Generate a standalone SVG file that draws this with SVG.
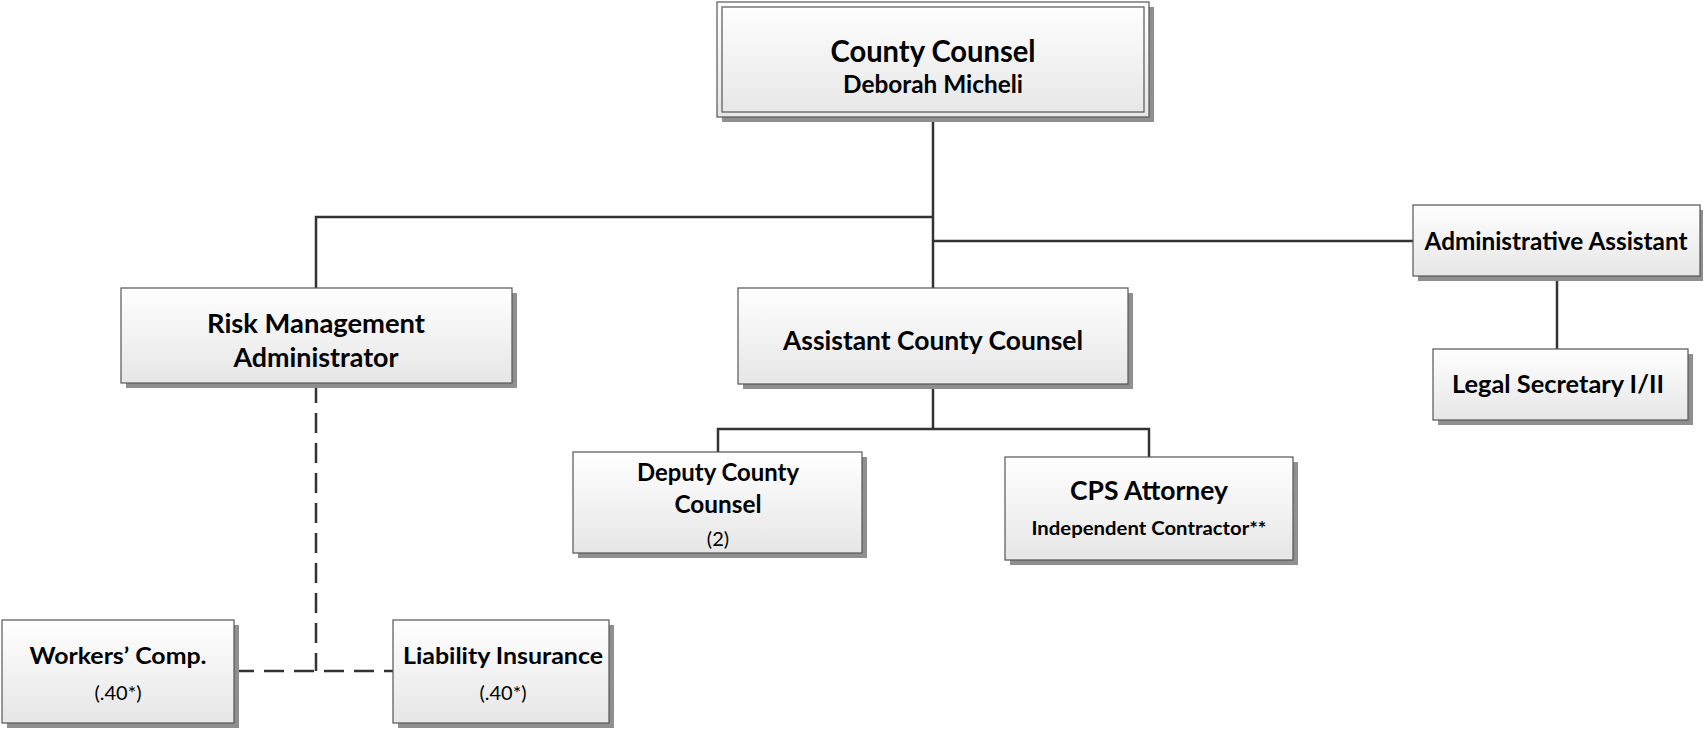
<svg xmlns="http://www.w3.org/2000/svg" width="1703" height="729" viewBox="0 0 1703 729">
<defs>
<linearGradient id="g" x1="0" y1="0" x2="0" y2="1">
<stop offset="0" stop-color="#ffffff"/>
<stop offset="1" stop-color="#e6e6e6"/>
</linearGradient>
</defs>
<style>
.box{fill:url(#g);stroke:#555;stroke-width:1.2}
.sh{fill:#8f8f8f}
.t{font-family:Lato,"Liberation Sans",sans-serif;font-weight:bold;fill:#000;text-anchor:middle}
.r{font-family:Lato,"Liberation Sans",sans-serif;font-weight:normal;fill:#000;text-anchor:middle}
.c{fill:none;stroke:#333;stroke-width:2.5}
.d{fill:none;stroke:#333;stroke-width:2.5;stroke-dasharray:20 10}
</style>
<rect width="1703" height="729" fill="#fff"/>
<g id="connectors">
<path class="c" d="M933 117 V288"/>
<path class="c" d="M316 288 V217 H933"/>
<path class="c" d="M933 241 H1413"/>
<path class="c" d="M933 384 V429 M718 452 V429 H1149 V457"/>
<path class="c" d="M1557 276 V349"/>
<path class="d" d="M316 383 V671"/>
<path class="d" d="M234 671 H393"/>
</g>
<g id="county-counsel">
<rect class="sh" x="722" y="7" width="432" height="115"/>
<rect class="box" x="717" y="2" width="432" height="115"/>
<rect class="box" x="722" y="7" width="422" height="105" style="fill:none"/>
<text class="t" x="933" y="62" font-size="30" textLength="205" lengthAdjust="spacingAndGlyphs">County Counsel</text>
<text class="t" x="933" y="93" font-size="24" textLength="180" lengthAdjust="spacingAndGlyphs">Deborah Micheli</text>
</g>
<g id="risk-management">
<rect class="sh" x="126" y="293" width="391" height="95"/>
<rect class="box" x="121" y="288" width="391" height="95"/>
<text class="t" x="316" y="333" font-size="27" textLength="218" lengthAdjust="spacingAndGlyphs">Risk Management</text>
<text class="t" x="316" y="367" font-size="27" textLength="165" lengthAdjust="spacingAndGlyphs">Administrator</text>
</g>
<g id="assistant-county-counsel">
<rect class="sh" x="743" y="293" width="390" height="96"/>
<rect class="box" x="738" y="288" width="390" height="96"/>
<text class="t" x="933" y="350" font-size="27" textLength="300" lengthAdjust="spacingAndGlyphs">Assistant County Counsel</text>
</g>
<g id="administrative-assistant">
<rect class="sh" x="1418" y="210" width="287" height="71"/>
<rect class="box" x="1413" y="205" width="287" height="71"/>
<text class="t" x="1556" y="250" font-size="24" textLength="263" lengthAdjust="spacingAndGlyphs">Administrative Assistant</text>
</g>
<g id="legal-secretary">
<rect class="sh" x="1438" y="354" width="255" height="71"/>
<rect class="box" x="1433" y="349" width="255" height="71"/>
<text class="t" x="1558" y="393" font-size="25" textLength="212" lengthAdjust="spacingAndGlyphs">Legal Secretary I/II</text>
</g>
<g id="deputy-county-counsel">
<rect class="sh" x="578" y="457" width="289" height="101"/>
<rect class="box" x="573" y="452" width="289" height="101"/>
<text class="t" x="718" y="481" font-size="24" textLength="162" lengthAdjust="spacingAndGlyphs">Deputy County</text>
<text class="t" x="718" y="513" font-size="24" textLength="87" lengthAdjust="spacingAndGlyphs">Counsel</text>
<text class="r" x="718" y="546" font-size="20">(2)</text>
</g>
<g id="cps-attorney">
<rect class="sh" x="1010" y="462" width="288" height="103"/>
<rect class="box" x="1005" y="457" width="288" height="103"/>
<text class="t" x="1149" y="500" font-size="27" textLength="158" lengthAdjust="spacingAndGlyphs">CPS Attorney</text>
<text class="t" x="1149" y="535" font-size="18" textLength="235" lengthAdjust="spacingAndGlyphs">Independent Contractor**</text>
</g>
<g id="workers-comp">
<rect class="sh" x="7" y="625" width="232" height="103"/>
<rect class="box" x="2" y="620" width="232" height="103"/>
<text class="t" x="118" y="664" font-size="23" textLength="177" lengthAdjust="spacingAndGlyphs">Workers’ Comp.</text>
<text class="r" x="118" y="700" font-size="20">(.40*)</text>
</g>
<g id="liability-insurance">
<rect class="sh" x="398" y="625" width="216" height="103"/>
<rect class="box" x="393" y="620" width="216" height="103"/>
<text class="t" x="503" y="664" font-size="23" textLength="200" lengthAdjust="spacingAndGlyphs">Liability Insurance</text>
<text class="r" x="503" y="700" font-size="20">(.40*)</text>
</g>
</svg>
